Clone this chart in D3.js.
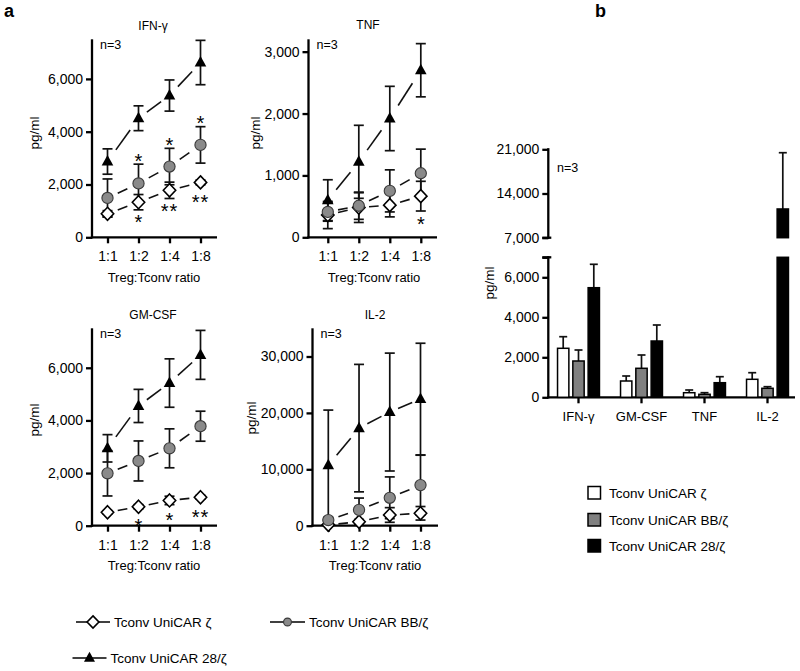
<!DOCTYPE html>
<html><head><meta charset="utf-8">
<script src="https://cdn.jsdelivr.net/npm/d3@7"></script>
<style>
body{margin:0;background:#fff}
svg{display:block}
text{font-family:"Liberation Sans",Arial,sans-serif;fill:#000}
</style>
</head><body>
<svg id="c" width="800" height="671"></svg>
<script>
// ---------- data ----------
const ratios = ["1:1", "1:2", "1:4", "1:8"];
const seriesNames = ["Tconv UniCAR ζ", "Tconv UniCAR BB/ζ", "Tconv UniCAR 28/ζ"];
const cytokines = ["IFN-γ", "GM-CSF", "TNF", "IL-2"];

// panel a: means and SD per Treg:Tconv ratio
const ifnZeta = [890, 1330, 1780, 2080],   ifnZetaSD = [120, 290, 310, 90];
const ifnBB   = [1490, 2040, 2680, 3500],  ifnBBSD   = [720, 730, 690, 690];
const ifn28   = [2870, 4510, 5370, 6620],  ifn28SD   = [480, 470, 590, 840];

const tnfZeta = [360, 480, 520, 665],      tnfZetaSD = [220, 240, 190, 240];
const tnfBB   = [410, 510, 750, 1035],     tnfBBSD   = [150, 220, 340, 390];
const tnf28   = [600, 1220, 1920, 2700],   tnf28SD   = [330, 590, 520, 430];

const gmZeta  = [510, 720, 960, 1080],     gmZetaSD  = [60, 80, 160, 70];
const gmBB    = [1990, 2460, 2940, 3780],  gmBBSD    = [860, 760, 740, 570];
const gm28    = [2940, 4550, 5420, 6490],  gm28SD    = [520, 630, 920, 930];

const il2Zeta = [150, 700, 1900, 2200],    il2ZetaSD = [100, 400, 1300, 1200];
const il2BB   = [1000, 2800, 4950, 7200],  il2BBSD   = [500, 2100, 3700, 5300];
const il228   = [10700, 17300, 20150, 22450], il228SD = [9800, 11300, 10450, 9900];

// significance marks: ratio, series index, side, label
const ifnStars = [
  ["1:2", 1, "above", "*"], ["1:2", 0, "below", "*"],
  ["1:4", 1, "above", "*"], ["1:4", 0, "below", "**"],
  ["1:8", 1, "above", "*"], ["1:8", 0, "below", "**"]
];
const tnfStars = [["1:8", 0, "below", "*"]];
const gmStars = [["1:2", 0, "below", "*"], ["1:4", 0, "below", "*"], ["1:8", 0, "below", "**"]];
const il2Stars = [];

// y tick values
const ifnTicks = [0, 2000, 4000, 6000];
const tnfTicks = [0, 1000, 2000, 3000];
const gmTicks  = [0, 2000, 4000, 6000];
const il2Ticks = [0, 10000, 20000, 30000];

// panel b: bars (mean, upper SD)
const barZeta = [2450, 815, 230, 900],    barZetaErr = [580, 250, 135, 330];
const barBB   = [1815, 1450, 150, 450],   barBBErr   = [550, 665, 80, 80];
const bar28   = [5480, 2815, 730, 11550], bar28Err   = [1170, 800, 300, 8910];
const bLowTicks = [0, 2000, 4000, 6000];
const bUpTicks = [7000, 14000, 21000];
const bBreak = 7000, bMax = 21000;

// ---------- drawing ----------
const svg = d3.select("#c");
const fmt = d3.format(",");
const AXW = 2.3;

svg.append("text").attr("x", 4).attr("y", 17).attr("font-size", 18).attr("font-weight", "bold").text("a");
svg.append("text").attr("x", 595).attr("y", 17).attr("font-size", 18).attr("font-weight", "bold").text("b");

const panelsA = [
  {title: "IFN-γ", series: [[ifnZeta, ifnZetaSD], [ifnBB, ifnBBSD], [ifn28, ifn28SD]], stars: ifnStars, ticks: ifnTicks, yMax: 7500,
   L: {axisX: 92, xFirst: 107.5, xLast: 200.5, axisEnd: 217, y0: 237.3, yTop: 39.3, titleX: 153, titleY: 30, xtY: 282, ylX: 34, ylY: 133, xtX: 154}},
  {title: "TNF", series: [[tnfZeta, tnfZetaSD], [tnfBB, tnfBBSD], [tnf28, tnf28SD]], stars: tnfStars, ticks: tnfTicks, yMax: 3200,
   L: {axisX: 308.5, xFirst: 327.8, xLast: 420.8, axisEnd: 437, y0: 237.3, yTop: 39.3, titleX: 368, titleY: 29, xtY: 282, ylX: 255, ylY: 133, xtX: 374}},
  {title: "GM-CSF", series: [[gmZeta, gmZetaSD], [gmBB, gmBBSD], [gm28, gm28SD]], stars: gmStars, ticks: gmTicks, yMax: 7500,
   L: {axisX: 92, xFirst: 107.5, xLast: 200.5, axisEnd: 217, y0: 525.7, yTop: 328.3, titleX: 153, titleY: 319, xtY: 570, ylX: 34, ylY: 420, xtX: 154}},
  {title: "IL-2", series: [[il2Zeta, il2ZetaSD], [il2BB, il2BBSD], [il228, il228SD]], stars: il2Stars, ticks: il2Ticks, yMax: 35000,
   L: {axisX: 312.5, xFirst: 328.3, xLast: 420.5, axisEnd: 438, y0: 525.7, yTop: 328.3, titleX: 375, titleY: 319, xtY: 570, ylX: 251, ylY: 418, xtX: 375}}
];

const diamondPath = "M0,-6.5L6.2,0L0,6.5L-6.2,0Z";
const triPath = "M0,-6.5L5.8,4L-5.8,4Z";

function drawMarker(g, s, cx, cy, scale) {
  const k = scale || 1;
  if (s === 0) {
    g.append("path").attr("d", diamondPath).attr("transform", `translate(${cx},${cy}) scale(${k})`)
      .attr("fill", "#fff").attr("stroke", "#000").attr("stroke-width", 1.6 / k);
  } else if (s === 1) {
    g.append("circle").attr("cx", cx).attr("cy", cy).attr("r", 5.6 * k)
      .attr("fill", "#8a8a8a").attr("stroke", "#3a3a3a").attr("stroke-width", 1.1);
  } else {
    g.append("path").attr("d", triPath).attr("transform", `translate(${cx},${cy}) scale(${k})`)
      .attr("fill", "#000");
  }
}

panelsA.forEach(p => {
  const L = p.L;
  const g = svg.append("g");
  const x = d3.scalePoint().domain(ratios).range([L.xFirst, L.xLast]);
  const y = d3.scaleLinear().domain([0, p.yMax]).range([L.y0, L.yTop]);

  // y axis
  const ya = g.append("g").attr("transform", `translate(${L.axisX},0)`)
    .call(d3.axisLeft(y).tickValues(p.ticks).tickSize(6).tickPadding(3).tickFormat(fmt));
  ya.select(".domain").remove();
  ya.selectAll("line").attr("stroke-width", AXW);
  ya.selectAll("text").attr("font-size", 14).attr("font-family", null);
  g.append("line").attr("x1", L.axisX).attr("x2", L.axisX).attr("y1", L.y0 + AXW / 2).attr("y2", L.yTop)
    .attr("stroke", "#000").attr("stroke-width", AXW);

  // x axis
  const xa = g.append("g").attr("transform", `translate(0,${L.y0})`)
    .call(d3.axisBottom(x).tickSize(6).tickPadding(8));
  xa.select(".domain").remove();
  xa.selectAll("line").attr("stroke-width", AXW);
  xa.selectAll("text").attr("font-size", 14).attr("font-family", null);
  g.append("line").attr("x1", L.axisX - AXW / 2).attr("x2", L.axisEnd).attr("y1", L.y0).attr("y2", L.y0)
    .attr("stroke", "#000").attr("stroke-width", AXW);

  // texts
  g.append("text").attr("x", L.titleX).attr("y", L.titleY).attr("text-anchor", "middle").attr("font-size", 12).text(p.title);
  g.append("text").attr("x", L.axisX + 8).attr("y", L.yTop + 10).attr("font-size", 12.5).text("n=3");
  g.append("text").attr("x", L.xtX).attr("y", L.xtY).attr("text-anchor", "middle").attr("font-size", 13).text("Treg:Tconv ratio");
  g.append("text").attr("transform", `translate(${L.ylX},${L.ylY}) rotate(-90)`).attr("text-anchor", "middle")
    .attr("dy", "0.35em").attr("font-size", 13.5).text("pg/ml");

  // error bars
  p.series.forEach(([m, sd]) => {
    m.forEach((v, i) => {
      const cx = x(ratios[i]);
      const lo = Math.max(0, v - sd[i]), hi = v + sd[i];
      g.append("line").attr("x1", cx).attr("x2", cx).attr("y1", y(lo)).attr("y2", y(hi)).attr("stroke", "#111").attr("stroke-width", 1.7);
      [lo, hi].forEach(e => g.append("line").attr("x1", cx - 5).attr("x2", cx + 5).attr("y1", y(e)).attr("y2", y(e))
        .attr("stroke", "#111").attr("stroke-width", 1.7));
    });
  });

  // connectors (dashed segments)
  p.series.forEach(([m], s) => {
    const t0 = s === 2 ? 0.27 : 0.33, t1 = s === 2 ? 0.73 : 0.64;
    for (let i = 0; i < m.length - 1; i++) {
      const ax = x(ratios[i]), ay = y(m[i]), bx = x(ratios[i + 1]), by = y(m[i + 1]);
      g.append("line")
        .attr("x1", ax + t0 * (bx - ax)).attr("y1", ay + t0 * (by - ay))
        .attr("x2", ax + t1 * (bx - ax)).attr("y2", ay + t1 * (by - ay))
        .attr("stroke", "#111").attr("stroke-width", 1.6);
    }
  });

  // markers
  p.series.forEach(([m], s) => m.forEach((v, i) => drawMarker(g, s, x(ratios[i]), y(v))));

  // stars
  p.stars.forEach(([r, s, side, lab]) => {
    const [m, sd] = p.series[s];
    const i = ratios.indexOf(r);
    let cy;
    if (side === "above") cy = Math.min(y(m[i] + sd[i]), y(m[i]) - 7) - 8;
    else cy = Math.max(y(m[i] - sd[i]), y(m[i]) + 7) + 8;
    g.append("text").attr("x", x(r)).attr("y", cy + 11.5).attr("text-anchor", "middle")
      .attr("font-size", 20).attr("letter-spacing", lab.length > 1 ? 1 : 0).text(lab);
  });
});

// legend a
const legA = [
  {s: 0, lx: 76, ly: 622, len: 34},
  {s: 1, lx: 270, ly: 622, len: 35},
  {s: 2, lx: 72.5, ly: 658, len: 34}
];
legA.forEach(d => {
  const g = svg.append("g");
  g.append("line").attr("x1", d.lx).attr("x2", d.lx + d.len).attr("y1", d.ly).attr("y2", d.ly).attr("stroke", "#000").attr("stroke-width", 1.7);
  drawMarker(g, d.s, d.lx + d.len / 2, d.ly, d.s === 1 ? 0.7 : 0.95);
  g.append("text").attr("x", d.lx + d.len + 4).attr("y", d.ly).attr("dy", "0.35em").attr("font-size", 13.5).text(seriesNames[d.s]);
});

// ---------- panel b ----------
(function () {
  const L = {axisX: 548.3, axisEnd: 795, y0: 397.3, lowTop: 257.3, upBottom: 237.7, upTop: 149.3};
  const g = svg.append("g");
  const x = d3.scaleBand().domain(cytokines).range([547, 799]);
  const sub = d3.scaleBand().domain([0, 1, 2]).range([-22.95, 22.95]).paddingInner(0.26).paddingOuter(0.13);
  const yLow = d3.scaleLinear().domain([0, bBreak]).range([L.y0, L.lowTop]);
  const yUp = d3.scaleLinear().domain([bBreak, bMax]).range([L.upBottom, L.upTop]);
  const yB = v => v <= bBreak ? yLow(v) : yUp(v);

  // axes
  const al = g.append("g").attr("transform", `translate(${L.axisX},0)`)
    .call(d3.axisLeft(yLow).tickValues(bLowTicks.concat([bBreak])).tickSize(6).tickPadding(3)
      .tickFormat(v => v === bBreak ? "" : fmt(v)));
  const au = g.append("g").attr("transform", `translate(${L.axisX},0)`)
    .call(d3.axisLeft(yUp).tickValues(bUpTicks).tickSize(6).tickPadding(3).tickFormat(fmt));
  [al, au].forEach(a => {
    a.select(".domain").remove();
    a.selectAll("line").attr("stroke-width", AXW);
    a.selectAll("text").attr("font-size", 14).attr("font-family", null);
  });
  g.append("line").attr("x1", L.axisX).attr("x2", L.axisX).attr("y1", L.y0 + AXW / 2).attr("y2", L.lowTop - AXW / 2)
    .attr("stroke", "#000").attr("stroke-width", AXW);
  g.append("line").attr("x1", L.axisX).attr("x2", L.axisX).attr("y1", L.upBottom + AXW / 2).attr("y2", L.upTop - AXW / 2)
    .attr("stroke", "#000").attr("stroke-width", AXW);
  [L.lowTop, L.upBottom].forEach(yy => g.append("line").attr("x1", L.axisX - 6).attr("x2", L.axisX + 3).attr("y1", yy).attr("y2", yy)
    .attr("stroke", "#000").attr("stroke-width", AXW));

  const xa = g.append("g").attr("transform", `translate(0,${L.y0})`)
    .call(d3.axisBottom(x).tickSize(6).tickPadding(8));
  xa.select(".domain").remove();
  xa.selectAll("line").attr("stroke-width", AXW);
  xa.selectAll("text").attr("font-size", 13).attr("font-family", null);
  g.append("line").attr("x1", L.axisX - AXW / 2).attr("x2", L.axisEnd).attr("y1", L.y0).attr("y2", L.y0)
    .attr("stroke", "#000").attr("stroke-width", AXW);

  g.append("text").attr("transform", `translate(489,283) rotate(-90)`).attr("text-anchor", "middle")
    .attr("dy", "0.35em").attr("font-size", 13.5).text("pg/ml");
  g.append("text").attr("x", 557).attr("y", 172).attr("font-size", 12.5).text("n=3");

  const bars = [[barZeta, barZetaErr, "#fff"], [barBB, barBBErr, "#808080"], [bar28, bar28Err, "#000"]];
  // error bars (upper only)
  bars.forEach(([vals, errs], s) => vals.forEach((v, i) => {
    const cx = x(cytokines[i]) + x.bandwidth() / 2 + sub(s) + sub.bandwidth() / 2;
    g.append("line").attr("x1", cx).attr("x2", cx).attr("y1", yB(v)).attr("y2", yB(v + errs[i])).attr("stroke", "#111").attr("stroke-width", 1.7);
    g.append("line").attr("x1", cx - 4).attr("x2", cx + 4).attr("y1", yB(v + errs[i])).attr("y2", yB(v + errs[i])).attr("stroke", "#111").attr("stroke-width", 1.7);
  }));
  // bars, split at the axis break
  const segs = [{lo: 0, hi: bBreak, sc: yLow}, {lo: bBreak, hi: bMax, sc: yUp}];
  bars.forEach(([vals, errs, fill], s) => vals.forEach((v, i) => {
    const bx = x(cytokines[i]) + x.bandwidth() / 2 + sub(s);
    segs.forEach(sg => {
      if (v <= sg.lo) return;
      const top = Math.min(v, sg.hi);
      g.append("rect").attr("x", bx).attr("width", sub.bandwidth())
        .attr("y", sg.sc(top)).attr("height", sg.sc(sg.lo) - sg.sc(top))
        .attr("fill", fill).attr("stroke", "#000").attr("stroke-width", 1.5);
    });
  }));

  // legend b
  const legY = [493, 520, 546];
  const fills = ["#fff", "#808080", "#000"];
  seriesNames.forEach((n, s) => {
    g.append("rect").attr("x", 588).attr("y", legY[s] - 6.5).attr("width", 12.5).attr("height", 12.5)
      .attr("fill", fills[s]).attr("stroke", "#000").attr("stroke-width", 1.5);
    g.append("text").attr("x", 609).attr("y", legY[s]).attr("dy", "0.35em").attr("font-size", 13.5).text(n);
  });
})();
</script>
</body></html>
